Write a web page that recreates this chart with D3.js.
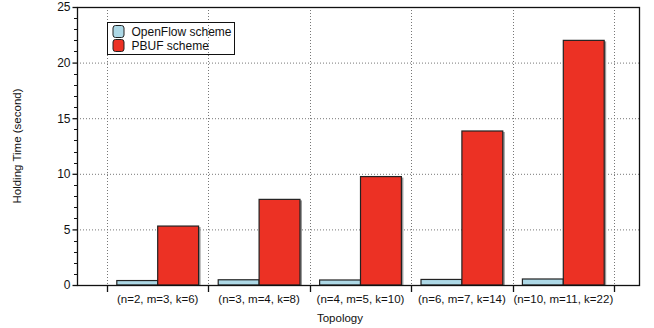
<!DOCTYPE html>
<html>
<head>
<meta charset="utf-8">
<script src="https://cdn.jsdelivr.net/npm/d3@7"></script>
<style>
  body { margin: 0; background: #fff; }
  text { font-family: "Liberation Sans", Arial, sans-serif; fill: #111; }
</style>
</head>
<body>
<script>
// data
var categories = ["(n=2, m=3, k=6)", "(n=3, m=4, k=8)", "(n=4, m=5, k=10)", "(n=6, m=7, k=14)", "(n=10, m=11, k=22)"];
var series = ["OpenFlow scheme", "PBUF scheme"];
var openflow = [0.4, 0.47, 0.45, 0.5, 0.54];
var pbuf = [5.3, 7.7, 9.75, 13.85, 22.0];
var yTicks = [0, 5, 10, 15, 20, 25];
var colors = ["#add8e6", "#ec3124"];

var width = 654, height = 328;
var plot = { left: 77, right: 639, top: 7, bottom: 285 };

var svg = d3.select("body").append("svg")
    .attr("width", width)
    .attr("height", height);

var y = d3.scaleLinear().domain([0, 25]).range([plot.bottom, plot.top]);
var x = d3.scaleBand().domain(categories).range([107, 614]);
var xs = d3.scaleBand().domain(series).range([0, x.bandwidth()]).paddingOuter(0.24);

var separators = categories.map(function (c) { return x(c); }).concat([x.range()[1]]);

// dotted grid
svg.append("g").selectAll("line").data(yTicks.filter(function (d) { return d > 0 && d < 25; }))
    .enter().append("line")
    .attr("x1", plot.left).attr("x2", plot.right)
    .attr("y1", function (d) { return y(d) + 0.5; }).attr("y2", function (d) { return y(d) + 0.5; })
    .attr("stroke", "#777").attr("stroke-width", 1).attr("stroke-dasharray", "1,2");
svg.append("g").selectAll("line").data(separators)
    .enter().append("line")
    .attr("x1", function (d) { return Math.round(d) + 0.5; }).attr("x2", function (d) { return Math.round(d) + 0.5; })
    .attr("y1", plot.top).attr("y2", plot.bottom)
    .attr("stroke", "#777").attr("stroke-width", 1).attr("stroke-dasharray", "1,2");

// bars
var rows = categories.map(function (c, i) { return { cat: c, vals: [openflow[i], pbuf[i]] }; });
var groups = svg.append("g").selectAll("g").data(rows).enter().append("g")
    .attr("transform", function (d) { return "translate(" + x(d.cat) + ",0)"; });
var cells = groups.selectAll("g").data(function (d) {
    return d.vals.map(function (v, j) { return { s: series[j], v: v, j: j }; });
}).enter().append("g");
// shadow
cells.append("rect")
    .attr("x", function (d) { return xs(d.s) + 2; })
    .attr("y", function (d) { return y(d.v) + 1; })
    .attr("width", xs.bandwidth())
    .attr("height", function (d) { return plot.bottom - y(d.v) - 1; })
    .attr("fill", "#999");
cells.append("rect")
    .attr("x", function (d) { return xs(d.s); })
    .attr("y", function (d) { return y(d.v); })
    .attr("width", xs.bandwidth())
    .attr("height", function (d) { return plot.bottom - y(d.v); })
    .attr("fill", function (d) { return colors[d.j]; })
    .attr("stroke", "#222").attr("stroke-width", 1.2);

// frame
svg.append("rect")
    .attr("x", plot.left + 0.5).attr("y", plot.top + 0.5)
    .attr("width", plot.right - plot.left).attr("height", plot.bottom - plot.top)
    .attr("fill", "none").attr("stroke", "#111").attr("stroke-width", 1.3);

// y axis
var yAxis = svg.append("g").attr("transform", "translate(" + (plot.left + 0.5) + ",0)")
    .call(d3.axisLeft(y).tickValues(yTicks).tickSize(5).tickPadding(2));
yAxis.select(".domain").remove();
yAxis.selectAll("line").attr("stroke", "#111").attr("stroke-width", 1.3);
yAxis.selectAll("text").style("font-size", "12px").style("font-family", "Liberation Sans, Arial, sans-serif").attr("fill", "#111");
svg.append("g").selectAll("line").data(d3.range(0, 26).filter(function (d) { return d % 5 !== 0; }))
    .enter().append("line")
    .attr("x1", plot.left - 3).attr("x2", plot.left)
    .attr("y1", function (d) { return Math.round(y(d)) + 0.5; }).attr("y2", function (d) { return Math.round(y(d)) + 0.5; })
    .attr("stroke", "#111").attr("stroke-width", 1);

// x axis: separator ticks and category labels
svg.append("g").selectAll("line").data(separators)
    .enter().append("line")
    .attr("x1", function (d) { return Math.round(d) + 0.5; }).attr("x2", function (d) { return Math.round(d) + 0.5; })
    .attr("y1", plot.bottom).attr("y2", plot.bottom + 7)
    .attr("stroke", "#111").attr("stroke-width", 1.3);
svg.append("g").selectAll("text").data(categories)
    .enter().append("text")
    .attr("x", function (d) { return x(d) + x.bandwidth() / 2; })
    .attr("y", 303)
    .attr("text-anchor", "middle")
    .style("font-size", "11.5px")
    .text(function (d) { return d; });

// axis titles
svg.append("text").attr("x", 340).attr("y", 322).attr("text-anchor", "middle")
    .style("font-size", "11.5px").text("Topology");
svg.append("text").attr("transform", "translate(21," + ((plot.top + plot.bottom) / 2) + ") rotate(-90)")
    .attr("text-anchor", "middle").style("font-size", "11.5px").text("Holding Time (second)");

// legend
var legend = svg.append("g").attr("transform", "translate(107.5,22.5)");
legend.append("rect").attr("width", 127).attr("height", 32)
    .attr("fill", "none").attr("stroke", "#111").attr("stroke-width", 1);
legend.selectAll("rect.sw").data(series).enter().append("rect")
    .attr("class", "sw")
    .attr("x", 5.5).attr("y", function (d, i) { return 3 + i * 14; })
    .attr("width", 11).attr("height", 12).attr("rx", 2.5)
    .attr("fill", function (d, i) { return colors[i]; })
    .attr("stroke", "#222").attr("stroke-width", 1);
legend.selectAll("text").data(series).enter().append("text")
    .attr("x", 24).attr("y", function (d, i) { return 13 + i * 14; })
    .style("font-size", "12px")
    .text(function (d) { return d; });
</script>
</body>
</html>
